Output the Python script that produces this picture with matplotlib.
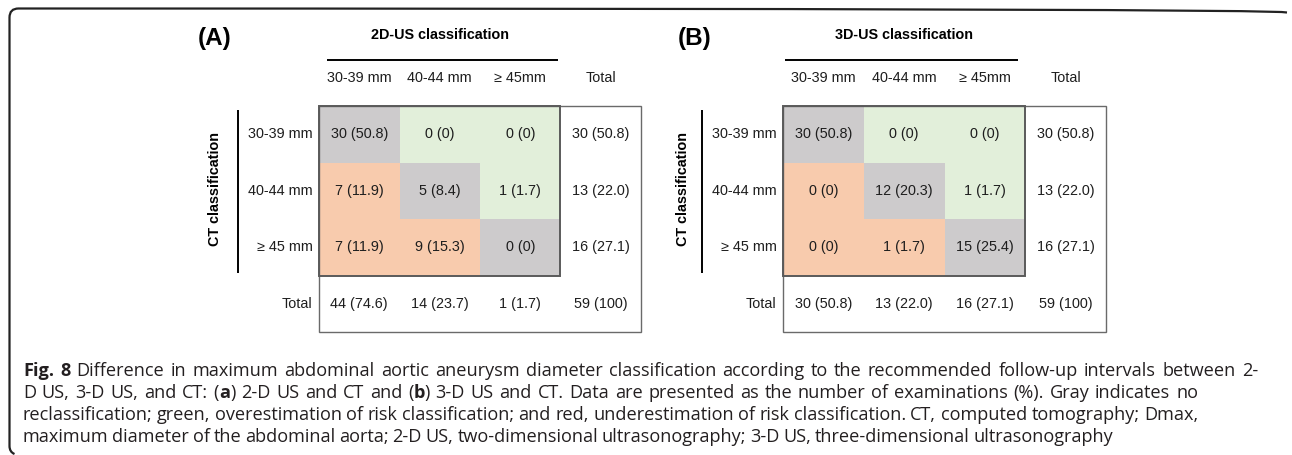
import matplotlib
matplotlib.use("Agg")
import matplotlib.pyplot as plt
from matplotlib.patches import Rectangle
from matplotlib.path import Path
from matplotlib.patches import PathPatch

# ---------------- data ----------------
col_labels = ["30-39 mm", "40-44 mm", "\u2265 45mm"]
row_labels = ["30-39 mm", "40-44 mm", "\u2265 45 mm"]
total_label = "Total"

counts_A = [[30, 0, 0], [7, 5, 1], [7, 9, 0]]
pct_A = [[50.8, 0, 0], [11.9, 8.4, 1.7], [11.9, 15.3, 0]]
row_tot_A = [30, 13, 16]
row_tot_pct_A = [50.8, 22.0, 27.1]
col_tot_A = [44, 14, 1]
col_tot_pct_A = [74.6, 23.7, 1.7]

counts_B = [[30, 0, 0], [0, 12, 1], [0, 1, 15]]
pct_B = [[50.8, 0, 0], [0, 20.3, 1.7], [0, 1.7, 25.4]]
row_tot_B = [30, 13, 16]
row_tot_pct_B = [50.8, 22.0, 27.1]
col_tot_B = [30, 13, 16]
col_tot_pct_B = [50.8, 22.0, 27.1]

grand_total = 59
grand_pct = 100

caption_lines = [
    [("Fig. 8", "bold"), (" Difference in maximum abdominal aortic aneurysm diameter classification according to the recommended follow-up intervals between 2-", "normal")],
    [("D US, 3-D US, and CT: (", "normal"), ("a", "bold"), (") 2-D US and CT and (", "normal"), ("b", "bold"), (") 3-D US and CT. Data are presented as the number of examinations (%). Gray indicates no", "normal")],
    [("reclassification; green, overestimation of risk classification; and red, underestimation of risk classification. CT, computed tomography; Dmax,", "normal")],
    [("maximum diameter of the abdominal aorta; 2-D US, two-dimensional ultrasonography; 3-D US, three-dimensional ultrasonography", "normal")],
]

# ---------------- style ----------------
W, H = 1292, 455
DPI = 100
C_GRAY = "#cdcbcc"
C_GREEN = "#e2efda"
C_ORANGE = "#f8cbad"
C_TEXT = "#1e1e1e"
C_BORDER = "#6a6a6a"
TFONT = ["Liberation Sans", "DejaVu Sans"]
FS = 10.4

fig = plt.figure(figsize=(W / DPI, H / DPI), dpi=DPI)
fig.patch.set_facecolor("white")


def fmt_pct(p):
    if p == 0:
        return "0"
    if p == 100:
        return "100"
    return f"{p:.1f}"


def px_axes(left, right, top, bottom):
    return fig.add_axes([left / W, 1 - bottom / H, (right - left) / W, (bottom - top) / H])


def draw_panel(ax, letter, title, counts, pct, rtot, rtotp, ctot, ctotp,
               letter_x, ct_x, ul_x0, ul_x1):
    n = len(counts)
    ax.set_xlim(0, n + 1)
    ax.set_ylim(n + 1, 0)
    ax.axis("off")
    for i in range(n):
        for j in range(n):
            col = C_GRAY if i == j else (C_GREEN if j > i else C_ORANGE)
            ax.add_patch(Rectangle((j, i), 1, 1, facecolor=col, edgecolor="none", zorder=1))
            ax.text(j + 0.5, i + 0.5, f"{counts[i][j]} ({fmt_pct(pct[i][j])})",
                    ha="center", va="center", fontsize=FS, color=C_TEXT, family=TFONT, zorder=3)
        ax.text(n + 0.5, i + 0.5, f"{rtot[i]} ({fmt_pct(rtotp[i])})",
                ha="center", va="center", fontsize=FS, color=C_TEXT, family=TFONT)
        ax.text(-0.08, i + 0.5, row_labels[i], ha="right", va="center",
                fontsize=FS, color=C_TEXT, family=TFONT, clip_on=False)
    for j in range(n):
        ax.text(j + 0.5, n + 0.5, f"{ctot[j]} ({fmt_pct(ctotp[j])})",
                ha="center", va="center", fontsize=FS, color=C_TEXT, family=TFONT)
        ax.text(j + 0.5, -0.5, col_labels[j], ha="center", va="center",
                fontsize=FS, color=C_TEXT, family=TFONT, clip_on=False)
    ax.text(n + 0.5, n + 0.5, f"{grand_total} ({fmt_pct(grand_pct)})",
            ha="center", va="center", fontsize=FS, color=C_TEXT, family=TFONT)
    ax.text(n + 0.5, -0.5, total_label, ha="center", va="center",
            fontsize=FS, color=C_TEXT, family=TFONT, clip_on=False)
    ax.text(-0.08, n + 0.5, total_label, ha="right", va="center",
            fontsize=FS, color=C_TEXT, family=TFONT, clip_on=False)
    # outer box
    ax.add_patch(Rectangle((0, 0), n + 1, n + 1, facecolor="none", edgecolor=C_BORDER,
                           lw=1.0, zorder=4, clip_on=False))
    # inner coloured block outline
    ax.add_patch(Rectangle((0, 0), n, n, facecolor="none", edgecolor="#5a5a5a",
                           lw=1.4, zorder=4, clip_on=False))
    # title + underline
    ax.text(1.5, -1.26, title, ha="center", va="center", fontsize=FS,
            fontweight="bold", color="black", family=TFONT, clip_on=False)
    ax.plot([ul_x0, ul_x1], [-0.81, -0.81], color="black", lw=1.4, clip_on=False,
            solid_capstyle="butt")
    # panel letter
    ax.text(letter_x, -1.19, letter, ha="center", va="center", fontsize=17.5,
            fontweight="bold", color="black", family=TFONT, clip_on=False)
    # CT axis line + label
    ax.plot([-1.005, -1.005], [0.07, 2.96], color="black", lw=1.4, clip_on=False,
            solid_capstyle="butt")
    ax.text(ct_x, 1.47, "CT classification", rotation=90, ha="center", va="center",
            fontsize=FS, fontweight="bold", color="black", family=TFONT, clip_on=False)


axA = px_axes(319, 641, 106, 332)
draw_panel(axA, "(A)", "2D-US classification", counts_A, pct_A, row_tot_A, row_tot_pct_A,
           col_tot_A, col_tot_pct_A, letter_x=-1.30, ct_x=-1.29, ul_x0=0.10, ul_x1=2.97)
axB = px_axes(783, 1106, 106, 332)
draw_panel(axB, "(B)", "3D-US classification", counts_B, pct_B, row_tot_B, row_tot_pct_B,
           col_tot_B, col_tot_pct_B, letter_x=-1.09, ct_x=-1.24, ul_x0=0.025, ul_x1=2.91)

# ---------------- overlay: frame + caption ----------------
ov = fig.add_axes([0, 0, 1, 1], zorder=-1)
ov.set_xlim(0, W)
ov.set_ylim(H, 0)
ov.axis("off")

r = 9
x0, y0 = 9.5, 8.5
verts = [(1287, y0 + 4), (1283, y0), (x0 + r, y0), (x0, y0), (x0, y0 + r),
         (x0, 446), (x0, 452), (x0 + 5, 454)]
codes = [Path.MOVETO, Path.CURVE3, Path.LINETO, Path.CURVE3, Path.CURVE3,
         Path.LINETO, Path.CURVE3, Path.CURVE3]
ov.add_patch(PathPatch(Path(verts, codes), facecolor="none", edgecolor="#222222", lw=1.6))

CFONT = ["Open Sans", "DejaVu Sans"]
C_CAP = "#231f20"
CAP_FS = 13.1
renderer = fig.canvas.get_renderer()


def tokens_of(line):
    toks = []
    pending_space = False
    for txt, wt in line:
        parts = txt.split(" ")
        for k, p in enumerate(parts):
            if k > 0:
                pending_space = True
            if p == "":
                continue
            toks.append((p, wt, pending_space and len(toks) > 0))
            pending_space = False
    return toks


def width_of(s, wt):
    t = ov.text(0, 0, s, fontsize=CAP_FS, fontweight=wt, family=CFONT)
    w = t.get_window_extent(renderer).width
    t.remove()
    return w


space_w = width_of("n n", "normal") - width_of("nn", "normal")
cap_x0 = 23
cap_right = [1258, 1198, 1198, 1092]
cap_y = [369, 391, 413, 435]
for line, yy, xr in zip(caption_lines, cap_y, cap_right):
    toks = tokens_of(line)
    widths = [width_of(s, wt) for s, wt, _ in toks]
    nsp = sum(1 for _, _, sp in toks if sp)
    gap = (xr - cap_x0 - sum(widths)) / max(nsp, 1)
    gap = min(max(gap, space_w - 1.0), space_w + 1.8)
    x = cap_x0
    for (s, wt, sp), w in zip(toks, widths):
        if sp:
            x += gap
        ov.text(x, yy, s, fontsize=CAP_FS, fontweight=wt, family=CFONT,
                color=C_CAP, ha="left", va="center_baseline")
        x += w

fig.savefig("out.png", dpi=DPI, facecolor="white")
